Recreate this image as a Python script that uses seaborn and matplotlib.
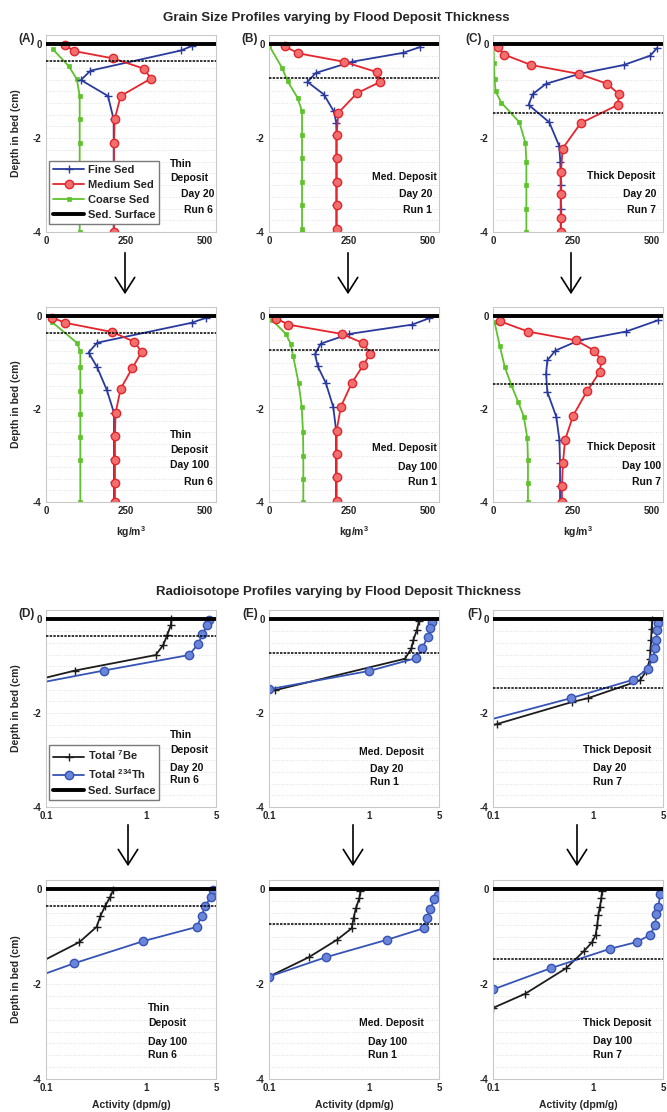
import numpy as np
import matplotlib
matplotlib.use("Agg")
import matplotlib.pyplot as plt
import seaborn as sns
from matplotlib.lines import Line2D
from matplotlib.patches import FancyArrowPatch
from matplotlib.ticker import NullLocator

sns.set_style("white")
plt.rcParams['font.family'] = ['Liberation Sans', 'DejaVu Sans']
plt.rcParams['font.weight'] = 'bold'
plt.rcParams['axes.labelweight'] = 'bold'
plt.rcParams['mathtext.fontset'] = 'custom'
plt.rcParams['mathtext.rm'] = 'Liberation Sans:bold'
plt.rcParams['mathtext.bf'] = 'Liberation Sans:bold'
plt.rcParams['mathtext.it'] = 'Liberation Sans:bold'
plt.rcParams['mathtext.default'] = 'bf'

# ---------------- grain size profiles (kg/m^3 vs depth in cm) ----------------
# Day 20
fine_A20_x = [460, 425, 140, 110, 195, 213, 213, 213, 213, 213, 213]
fine_A20_y = [-0.03, -0.13, -0.56, -0.76, -1.10, -1.60, -2.10, -2.60, -3.10, -3.60, -4.0]
med_A20_x = [60, 87, 212, 309, 330, 235, 216, 214, 214, 214, 214, 214]
med_A20_y = [-0.01, -0.14, -0.30, -0.52, -0.73, -1.10, -1.60, -2.10, -2.60, -3.10, -3.60, -4.0]
coarse_A20_x = [21, 71, 97, 106, 106, 106, 106, 106, 106, 106]
coarse_A20_y = [-0.10, -0.46, -0.74, -1.10, -1.60, -2.10, -2.60, -3.10, -3.60, -4.0]

fine_B20_x = [474, 422, 261, 147, 121, 173, 204, 212, 212, 212, 212, 212, 212]
fine_B20_y = [-0.06, -0.18, -0.37, -0.61, -0.80, -1.07, -1.43, -1.68, -1.93, -2.43, -2.93, -3.43, -4.0]
med_B20_x = [49, 92, 235, 339, 350, 277, 218, 213, 213, 213, 213, 213]
med_B20_y = [-0.04, -0.19, -0.37, -0.59, -0.80, -1.04, -1.46, -1.93, -2.43, -2.93, -3.43, -3.93]
coarse_B20_x = [0, 41, 59, 90, 104, 104, 104, 104, 104, 104, 104]
coarse_B20_y = [-0.02, -0.50, -0.79, -1.14, -1.43, -1.93, -2.43, -2.93, -3.43, -3.93, -4.0]

fine_C20_x = [516, 495, 411, 271, 167, 125, 112, 177, 208, 212, 213, 213, 213]
fine_C20_y = [-0.08, -0.24, -0.44, -0.63, -0.84, -1.06, -1.29, -1.66, -2.16, -2.50, -3.0, -3.5, -4.0]
med_C20_x = [16, 36, 120, 271, 359, 396, 393, 276, 219, 214, 214, 214, 214]
med_C20_y = [-0.06, -0.22, -0.44, -0.63, -0.84, -1.06, -1.29, -1.68, -2.22, -2.72, -3.20, -3.70, -4.0]
coarse_C20_x = [2, 3, 5, 8, 26, 83, 102, 105, 105, 105, 105]
coarse_C20_y = [-0.06, -0.40, -0.74, -1.00, -1.24, -1.66, -2.10, -2.50, -3.0, -3.5, -4.0]

# Day 100
fine_A100_x = [505, 458, 161, 134, 161, 191, 214, 214, 214, 214, 214]
fine_A100_y = [-0.03, -0.14, -0.57, -0.78, -1.10, -1.58, -2.08, -2.55, -3.07, -3.57, -4.0]
med_A100_x = [20, 60, 209, 278, 301, 272, 235, 219, 217, 217, 217, 217]
med_A100_y = [-0.03, -0.14, -0.34, -0.55, -0.77, -1.11, -1.56, -2.08, -2.57, -3.09, -3.59, -4.0]
coarse_A100_x = [18, 97, 108, 108, 108, 108, 108, 108, 108]
coarse_A100_y = [-0.12, -0.57, -0.75, -1.10, -1.60, -2.10, -2.60, -3.10, -4.0]

fine_B100_x = [505, 450, 253, 163, 145, 153, 179, 202, 211, 211, 211, 211]
fine_B100_y = [-0.04, -0.18, -0.38, -0.59, -0.81, -1.07, -1.44, -1.95, -2.44, -2.97, -3.46, -4.0]
med_B100_x = [23, 61, 229, 297, 318, 297, 261, 226, 213, 213, 213, 213]
med_B100_y = [-0.05, -0.18, -0.38, -0.58, -0.81, -1.05, -1.43, -1.95, -2.46, -2.97, -3.46, -3.97]
coarse_B100_x = [11, 53, 68, 76, 93, 103, 107, 108, 108, 108]
coarse_B100_y = [-0.09, -0.38, -0.59, -0.86, -1.43, -1.95, -2.50, -3.0, -3.5, -4.0]

fine_C100_x = [518, 418, 270, 196, 171, 167, 171, 199, 209, 211, 211, 211]
fine_C100_y = [-0.09, -0.33, -0.52, -0.74, -0.95, -1.24, -1.63, -2.16, -2.66, -3.16, -3.66, -4.0]
med_C100_x = [23, 111, 262, 319, 341, 336, 296, 252, 227, 220, 217, 217]
med_C100_y = [-0.11, -0.33, -0.52, -0.74, -0.95, -1.20, -1.61, -2.14, -2.66, -3.16, -3.66, -4.0]
coarse_C100_x = [5, 21, 37, 58, 79, 97, 108, 110, 110, 110]
coarse_C100_y = [-0.13, -0.63, -1.09, -1.49, -1.84, -2.16, -2.63, -3.10, -3.60, -4.0]

# ---------------- radioisotope profiles (dpm/g vs depth in cm) ----------------
be7_D20_x = [1.79, 1.77, 1.63, 1.49, 1.25, 0.196, 0.05]
be7_D20_y = [0.0, -0.12, -0.33, -0.54, -0.76, -1.09, -1.40]
th_D20_x = [4.28, 4.10, 3.66, 3.30, 2.69, 0.38, 0.05]
th_D20_y = [-0.01, -0.12, -0.32, -0.53, -0.76, -1.09, -1.45]

be7_E20_x = [3.15, 3.00, 2.77, 2.65, 2.28, 0.115, 0.09]
be7_E20_y = [-0.04, -0.23, -0.44, -0.62, -0.84, -1.51, -1.55]
th_E20_x = [4.30, 4.10, 3.85, 3.40, 2.92, 1.00, 0.10]
th_E20_y = [-0.05, -0.19, -0.37, -0.62, -0.83, -1.10, -1.49]

be7_F20_x = [3.90, 3.85, 3.80, 3.75, 3.70, 3.40, 2.95, 0.89, 0.62, 0.11, 0.05]
be7_F20_y = [-0.02, -0.20, -0.45, -0.65, -0.85, -1.10, -1.30, -1.68, -1.76, -2.23, -2.44]
th_F20_x = [4.50, 4.40, 4.27, 4.16, 4.00, 3.50, 2.49, 0.60, 0.05]
th_F20_y = [-0.08, -0.23, -0.44, -0.62, -0.82, -1.06, -1.29, -1.68, -2.29]

be7_D100_x = [0.469, 0.44, 0.39, 0.35, 0.32, 0.216, 0.05]
be7_D100_y = [-0.01, -0.15, -0.35, -0.56, -0.79, -1.11, -1.80]
th_D100_x = [4.70, 4.48, 3.89, 3.60, 3.22, 0.94, 0.19, 0.05]
th_D100_y = [-0.02, -0.15, -0.35, -0.55, -0.79, -1.09, -1.56, -2.00]

be7_E100_x = [0.82, 0.80, 0.74, 0.70, 0.67, 0.48, 0.25, 0.10]
be7_E100_y = [-0.04, -0.18, -0.39, -0.60, -0.82, -1.06, -1.43, -1.84]
th_E100_x = [4.84, 4.50, 4.10, 3.80, 3.50, 1.52, 0.37, 0.10]
th_E100_y = [-0.11, -0.20, -0.41, -0.60, -0.82, -1.06, -1.43, -1.84]

be7_F100_x = [1.23, 1.21, 1.17, 1.13, 1.10, 1.06, 0.98, 0.82, 0.54, 0.21, 0.10]
be7_F100_y = [-0.04, -0.18, -0.36, -0.54, -0.75, -0.96, -1.11, -1.29, -1.66, -2.20, -2.50]
th_F100_x = [4.69, 4.50, 4.30, 4.17, 3.72, 2.73, 1.49, 0.38, 0.10]
th_F100_y = [-0.09, -0.36, -0.52, -0.75, -0.96, -1.11, -1.25, -1.66, -2.11]

# flood deposit base (cm) for thin / medium / thick runs
deposit_depth = [-0.35, -0.72, -1.46]
panel_letters = [["(A)", "(B)", "(C)"], ["(D)", "(E)", "(F)"]]
grain_ticks = [0, 250, 500]
activity_ticks = [0.1, 1, 5]
activity_ticklabels = ["0.1", "1", "5"]
depth_ticks = [0, -2, -4]

grain_sets = [
    [(fine_A20_x, fine_A20_y, med_A20_x, med_A20_y, coarse_A20_x, coarse_A20_y),
     (fine_B20_x, fine_B20_y, med_B20_x, med_B20_y, coarse_B20_x, coarse_B20_y),
     (fine_C20_x, fine_C20_y, med_C20_x, med_C20_y, coarse_C20_x, coarse_C20_y)],
    [(fine_A100_x, fine_A100_y, med_A100_x, med_A100_y, coarse_A100_x, coarse_A100_y),
     (fine_B100_x, fine_B100_y, med_B100_x, med_B100_y, coarse_B100_x, coarse_B100_y),
     (fine_C100_x, fine_C100_y, med_C100_x, med_C100_y, coarse_C100_x, coarse_C100_y)],
]
iso_sets = [
    [(be7_D20_x, be7_D20_y, th_D20_x, th_D20_y),
     (be7_E20_x, be7_E20_y, th_E20_x, th_E20_y),
     (be7_F20_x, be7_F20_y, th_F20_x, th_F20_y)],
    [(be7_D100_x, be7_D100_y, th_D100_x, th_D100_y),
     (be7_E100_x, be7_E100_y, th_E100_x, th_E100_y),
     (be7_F100_x, be7_F100_y, th_F100_x, th_F100_y)],
]

# panel notes: (text, x, y, ha) in axes fractions
notes = [
    [[("Thin", 0.73, 0.345, "left"), ("Deposit", 0.73, 0.274, "left"),
      ("Day 20", 0.99, 0.193, "right"), ("Run 6", 0.98, 0.112, "right")],
     [("Med. Deposit", 0.99, 0.279, "right"), ("Day 20", 0.96, 0.193, "right"),
      ("Run 1", 0.96, 0.112, "right")],
     [("Thick Deposit", 0.553, 0.284, "left"), ("Day 20", 0.96, 0.193, "right"),
      ("Run 7", 0.96, 0.112, "right")]],
    [[("Thin", 0.73, 0.344, "left"), ("Deposit", 0.73, 0.267, "left"),
      ("Day 100", 0.73, 0.19, "left"), ("Run 6", 0.98, 0.103, "right")],
     [("Med. Deposit", 0.99, 0.277, "right"), ("Day 100", 0.99, 0.18, "right"),
      ("Run 1", 0.99, 0.103, "right")],
     [("Thick Deposit", 0.553, 0.282, "left"), ("Day 100", 0.99, 0.185, "right"),
      ("Run 7", 0.99, 0.103, "right")]],
    [[("Thin", 0.73, 0.365, "left"), ("Deposit", 0.73, 0.289, "left"),
      ("Day 20", 0.73, 0.198, "left"), ("Run 6", 0.73, 0.137, "left")],
     [("Med. Deposit", 0.53, 0.279, "left"), ("Day 20", 0.595, 0.193, "left"),
      ("Run 1", 0.595, 0.127, "left")],
     [("Thick Deposit", 0.527, 0.289, "left"), ("Day 20", 0.586, 0.198, "left"),
      ("Run 7", 0.586, 0.127, "left")]],
    [[("Thin", 0.60, 0.357, "left"), ("Deposit", 0.60, 0.281, "left"),
      ("Day 100", 0.60, 0.186, "left"), ("Run 6", 0.60, 0.12, "left")],
     [("Med. Deposit", 0.53, 0.281, "left"), ("Day 100", 0.583, 0.186, "left"),
      ("Run 1", 0.583, 0.12, "left")],
     [("Thick Deposit", 0.527, 0.281, "left"), ("Day 100", 0.586, 0.19, "left"),
      ("Run 7", 0.586, 0.12, "left")]],
]

FINE = "#2a3a9c"
MED = "#e4252c"
MED_FACE = "#f07070"
COARSE = "#5ec22c"
BE7 = "#1c1c1c"
TH = "#3653b6"
TH_FACE = "#6b86d8"

W, H = 667, 1112
fig = plt.figure(figsize=(W / 100, H / 100), dpi=100)
fig.patch.set_facecolor("white")

col_left = [46, 269, 493]
col_w = 170
rows = [(35, 197), (307, 195), (610, 197), (880, 199)]


def make_axes(left, top, w, h):
    return fig.add_axes([left / W, 1 - (top + h) / H, w / W, h / H])


def style_axes(ax):
    ax.set_facecolor("white")
    for s in ax.spines.values():
        s.set_color("#c9c9c9")
        s.set_linewidth(0.8)
    ax.set_ylim(-4, 0.2)
    ax.set_yticks(depth_ticks)
    ax.set_yticklabels([str(t) for t in depth_ticks])
    ax.set_yticks(np.arange(-4, 0.01, 0.25), minor=True)
    ax.grid(False)
    ax.grid(True, which="both", axis="y", color="#d6d6d6", lw=0.6, ls=(0, (1, 2)))
    ax.tick_params(axis="both", which="both", length=0, labelsize=7, pad=3)
    ax.set_xlabel("")
    ax.set_ylabel("")


fine_kw = dict(color=FINE, marker="+", markersize=5.5, markeredgecolor=FINE,
               markeredgewidth=1.0, lw=1.3)
med_kw = dict(color=MED, marker="o", markersize=6, markerfacecolor=MED_FACE,
              markeredgecolor=MED, markeredgewidth=1.0, lw=1.3)
coarse_kw = dict(color=COARSE, marker="s", markersize=2.2, markerfacecolor=COARSE,
                 markeredgecolor=COARSE, markeredgewidth=0.5, lw=1.3)
be7_kw = dict(color=BE7, marker="+", markersize=5.5, markeredgecolor=BE7,
              markeredgewidth=1.0, lw=1.3)
th_kw = dict(color=TH, marker="o", markersize=6, markerfacecolor=TH_FACE,
             markeredgecolor=TH, markeredgewidth=1.0, lw=1.3)
legend_kw = dict(loc="lower left", fontsize=8, frameon=True, fancybox=False,
                 edgecolor="#7a7a7a", framealpha=1, handlelength=2.8,
                 borderpad=0.35, labelspacing=0.45, handletextpad=0.3,
                 borderaxespad=0)

for r in range(4):
    top, h = rows[r]
    for c in range(3):
        ax = make_axes(col_left[c], top, col_w, h)
        if r < 2:
            fx, fy, mx, my, cx, cy = grain_sets[r][c]
            sns.lineplot(x=cx, y=cy, sort=False, estimator=None, ax=ax, legend=False, **coarse_kw)
            sns.lineplot(x=fx, y=fy, sort=False, estimator=None, ax=ax, legend=False, **fine_kw)
            sns.lineplot(x=mx, y=my, sort=False, estimator=None, ax=ax, legend=False, **med_kw)
            ax.set_xlim(0, 535)
            style_axes(ax)
            ax.set_xticks(grain_ticks)
            ax.set_xticklabels([str(t) for t in grain_ticks])
            if r == 1:
                ax.set_xlabel("kg/m$^3$", fontsize=7.5)
                ax.xaxis.set_label_coords(0.5, -0.115)
        else:
            bx, by, tx, ty = iso_sets[r - 2][c]
            ax.set_xscale("log")
            sns.lineplot(x=bx, y=by, sort=False, estimator=None, ax=ax, legend=False, **be7_kw)
            sns.lineplot(x=tx, y=ty, sort=False, estimator=None, ax=ax, legend=False, **th_kw)
            ax.set_xlim(0.1, 5)
            style_axes(ax)
            ax.set_xticks(activity_ticks)
            ax.set_xticklabels(activity_ticklabels)
            ax.xaxis.set_minor_locator(NullLocator())
            if r == 3:
                ax.set_xlabel("Activity (dpm/g)", fontsize=7.5)
                ax.xaxis.set_label_coords(0.5, -0.105)

        ax.axhline(deposit_depth[c], color="black", lw=1.1, ls=(0, (1.6, 0.8)), zorder=4)
        ax.axhline(0, color="black", lw=2.8, zorder=5)

        if c == 0:
            ax.set_ylabel("Depth in bed (cm)", fontsize=7.5)
            ax.yaxis.set_label_coords(-0.145, 0.5)

        for txt, x, y, ha in notes[r][c]:
            ax.text(x, y, txt, transform=ax.transAxes, ha=ha, va="center",
                    fontsize=7.5, fontweight="bold", color="#111111", zorder=6)

        if r in (0, 2):
            letter = panel_letters[r // 2][c]
            fig.text((col_left[c] - 11) / W, 1 - (top + 4) / H, letter,
                     ha="right", va="center", fontsize=8.5, fontweight="bold")

        if r == 0 and c == 0:
            handles = [Line2D([], [], **fine_kw), Line2D([], [], **med_kw),
                       Line2D([], [], **coarse_kw), Line2D([], [], color="black", lw=2.8)]
            ax.legend(handles, ["Fine Sed", "Medium Sed", "Coarse Sed", "Sed. Surface"],
                      bbox_to_anchor=(0.02, 0.04), **legend_kw)
        if r == 2 and c == 0:
            handles = [Line2D([], [], **be7_kw), Line2D([], [], **th_kw),
                       Line2D([], [], color="black", lw=2.8)]
            ax.legend(handles, ["Total $^{7}$Be", "Total $^{234}$Th", "Sed. Surface"],
                      bbox_to_anchor=(0.02, 0.035), **legend_kw)

fig.text(336 / W, 1 - 18 / H, "Grain Size Profiles varying by Flood Deposit Thickness",
         ha="center", va="center", fontsize=9.5, fontweight="bold")
fig.text(339 / W, 1 - 592 / H, "Radioisotope Profiles varying by Flood Deposit Thickness",
         ha="center", va="center", fontsize=9.5, fontweight="bold")

# transition arrows Day 20 -> Day 100
arrow_x = [[125, 348, 571], [128, 353, 577]]
arrow_y = [(250, 297), (822, 869)]
for k in range(2):
    y0, y1 = arrow_y[k]
    for xpx in arrow_x[k]:
        fig.add_artist(FancyArrowPatch((xpx / W, 1 - y0 / H), (xpx / W, 1 - y1 / H),
                                       transform=fig.transFigure,
                                       arrowstyle="->,head_length=0.55,head_width=0.35",
                                       mutation_scale=20, lw=1.2, color="black"))

fig.savefig("out.png", dpi=100, facecolor="white")
